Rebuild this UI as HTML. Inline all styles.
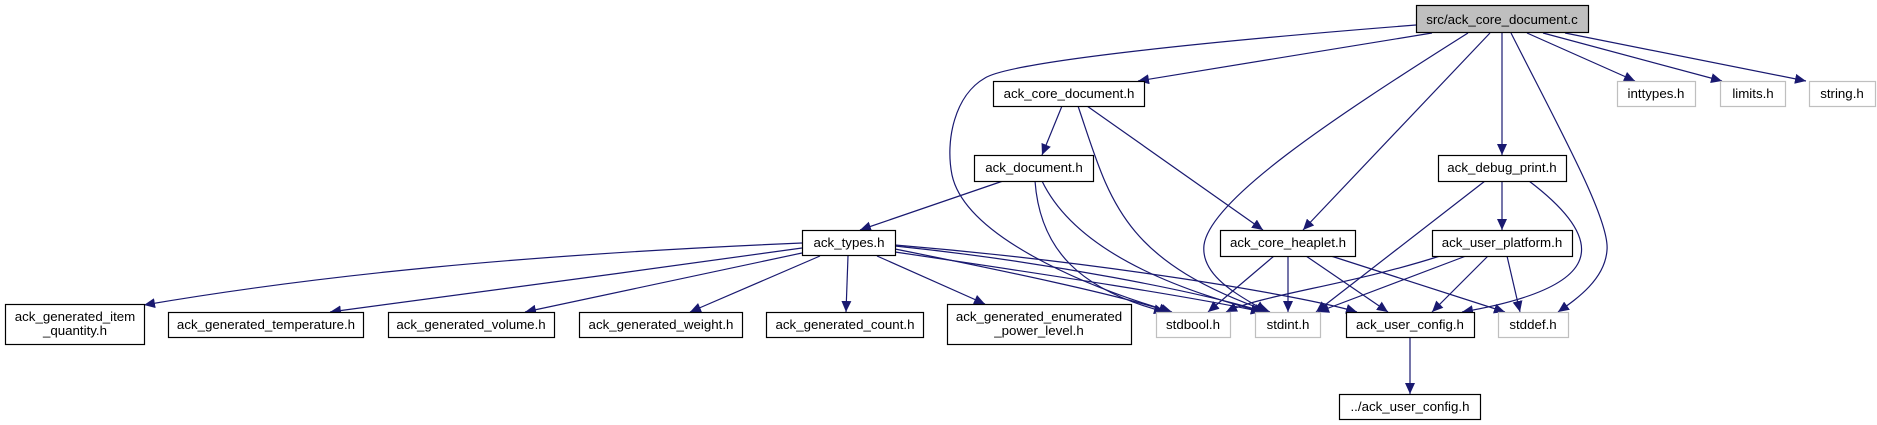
<!DOCTYPE html>
<html><head><meta charset="utf-8"><style>
html,body{margin:0;padding:0;background:#fff;width:1877px;height:425px;overflow:hidden}
svg text{font-family:"Liberation Sans",Helvetica,Arial,sans-serif;font-size:13.3px;fill:#000;text-anchor:middle}
</style></head><body>
<svg width="1877" height="425" viewBox="0 0 1877 425" xmlns="http://www.w3.org/2000/svg">
<defs>
<marker id="a" markerUnits="userSpaceOnUse" markerWidth="12" markerHeight="10" refX="11" refY="5" orient="auto">
<path d="M0,0 L11,5 L0,10 Z" fill="#191970"/>
</marker>
</defs>
<g fill="none" stroke="#191970" stroke-width="1.2" marker-end="url(#a)">
<path d="M1416,25 C1200,42 1010,62 985,78 C955,95 945,140 952,175 C965,235 1080,285 1172,312"/>
<path d="M1432,33 L1138,81"/>
<path d="M1468,33 C1330,120 1210,200 1204,245 C1200,280 1250,300 1266,312"/>
<path d="M1490,33 L1303,230"/>
<path d="M1502,33 L1502,155"/>
<path d="M1511,33 C1560,130 1610,220 1607,250 C1605,280 1575,300 1558,312"/>
<path d="M1527,33 L1635,81"/>
<path d="M1543,33 L1722,81"/>
<path d="M1565,33 L1806,81"/>
<path d="M1062,106 L1042,155"/>
<path d="M1078,106 C1110,200 1120,260 1270,312"/>
<path d="M1087,106 L1263,230"/>
<path d="M1003,181 L860,230"/>
<path d="M1035,181 C1040,250 1080,290 1165,312"/>
<path d="M1042,181 C1080,260 1200,295 1262,312"/>
<path d="M1502,181 L1502,230"/>
<path d="M1485,181 L1316,312"/>
<path d="M1529,181 C1620,250 1590,290 1462,312"/>
<path d="M1274,256 L1208,312"/>
<path d="M1288,256 L1288,312"/>
<path d="M1306,256 L1388,312"/>
<path d="M1331,256 L1505,312"/>
<path d="M1440,256 C1350,285 1260,295 1226,312"/>
<path d="M1466,256 L1318,312"/>
<path d="M1488,256 L1432,312"/>
<path d="M1507,256 L1520,312"/>
<path d="M1410,337 L1410,394"/>
<path d="M802,243 C520,255 320,275 144,305"/>
<path d="M802,248 C650,270 450,295 330,312"/>
<path d="M802,253 L525,312"/>
<path d="M820,256 L690,312"/>
<path d="M848,256 L846,312"/>
<path d="M877,256 L985,304"/>
<path d="M895,249 C1000,270 1120,295 1170,312"/>
<path d="M895,252 C1050,275 1200,298 1262,312"/>
<path d="M895,246 C1050,262 1200,292 1265,312"/>
<path d="M895,245 C1100,262 1300,295 1357,312"/>
</g>
<g stroke-width="1.2">
<rect x="1416.5" y="5.5" width="172" height="27" fill="#bfbfbf" stroke="#000"/>
<rect x="993.5" y="81.5" width="151" height="25" fill="#fff" stroke="#000"/>
<rect x="1617.5" y="81.5" width="78" height="25" fill="#fff" stroke="#bfbfbf"/>
<rect x="1720.5" y="81.5" width="65" height="25" fill="#fff" stroke="#bfbfbf"/>
<rect x="1809.5" y="81.5" width="66" height="25" fill="#fff" stroke="#bfbfbf"/>
<rect x="974.5" y="155.5" width="119" height="26" fill="#fff" stroke="#000"/>
<rect x="1438.5" y="155.5" width="128" height="26" fill="#fff" stroke="#000"/>
<rect x="802.5" y="230.5" width="93" height="25" fill="#fff" stroke="#000"/>
<rect x="1220.5" y="230.5" width="135" height="26" fill="#fff" stroke="#000"/>
<rect x="1432.5" y="230.5" width="140" height="26" fill="#fff" stroke="#000"/>
<rect x="5.5" y="304.5" width="139" height="40" fill="#fff" stroke="#000"/>
<rect x="168.5" y="312.5" width="195" height="25" fill="#fff" stroke="#000"/>
<rect x="388.5" y="312.5" width="166" height="25" fill="#fff" stroke="#000"/>
<rect x="579.5" y="312.5" width="163" height="25" fill="#fff" stroke="#000"/>
<rect x="766.5" y="312.5" width="157" height="25" fill="#fff" stroke="#000"/>
<rect x="947.5" y="304.5" width="184" height="40" fill="#fff" stroke="#000"/>
<rect x="1156.5" y="312.5" width="74" height="25" fill="#fff" stroke="#bfbfbf"/>
<rect x="1255.5" y="312.5" width="65" height="25" fill="#fff" stroke="#bfbfbf"/>
<rect x="1346.5" y="312.5" width="128" height="25" fill="#fff" stroke="#000"/>
<rect x="1498.5" y="312.5" width="70" height="25" fill="#fff" stroke="#bfbfbf"/>
<rect x="1339.5" y="394.5" width="141" height="25" fill="#fff" stroke="#000"/>
</g>
<text x="1502" y="24">src/ack_core_document.c</text>
<text x="1069" y="98">ack_core_document.h</text>
<text x="1656" y="98">inttypes.h</text>
<text x="1753" y="98">limits.h</text>
<text x="1842" y="98">string.h</text>
<text x="1034" y="172">ack_document.h</text>
<text x="1502" y="172">ack_debug_print.h</text>
<text x="849" y="247">ack_types.h</text>
<text x="1288" y="247">ack_core_heaplet.h</text>
<text x="1502" y="247">ack_user_platform.h</text>
<text x="75" y="321">ack_generated_item</text>
<text x="75" y="335">_quantity.h</text>
<text x="266" y="329">ack_generated_temperature.h</text>
<text x="471" y="329">ack_generated_volume.h</text>
<text x="661" y="329">ack_generated_weight.h</text>
<text x="845" y="329">ack_generated_count.h</text>
<text x="1039" y="321">ack_generated_enumerated</text>
<text x="1039" y="335">_power_level.h</text>
<text x="1193" y="329">stdbool.h</text>
<text x="1288" y="329">stdint.h</text>
<text x="1410" y="329">ack_user_config.h</text>
<text x="1533" y="329">stddef.h</text>
<text x="1410" y="411">../ack_user_config.h</text>
</svg>
</body></html>
